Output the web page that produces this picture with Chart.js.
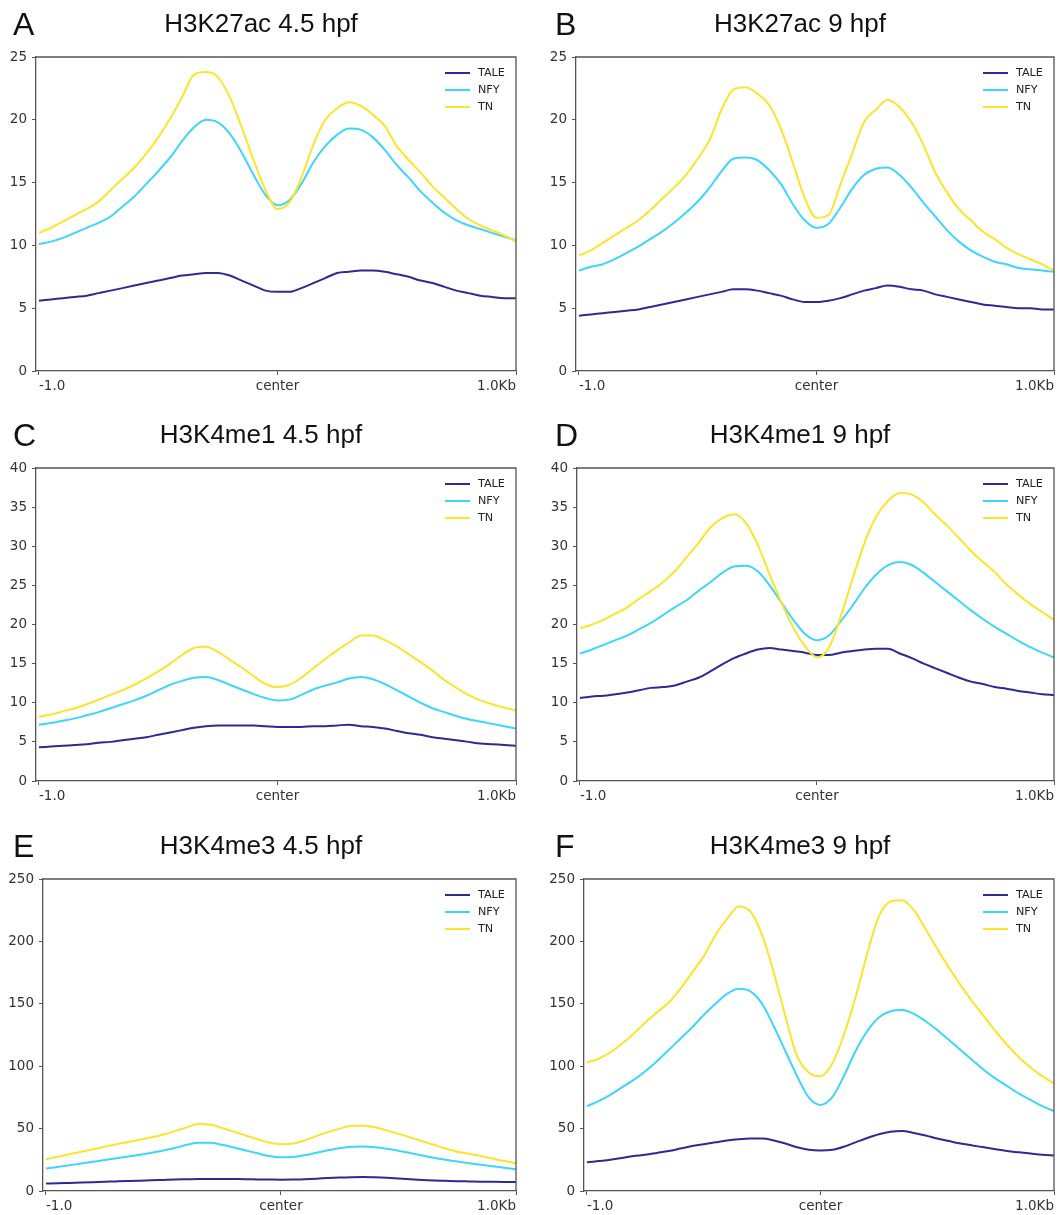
<!DOCTYPE html>
<html>
<head>
<meta charset="utf-8">
<script src="https://cdn.jsdelivr.net/npm/chart.js@4.4.1/dist/chart.umd.min.js"></script>
<style>
  html, body { margin: 0; padding: 0; background: #ffffff; }
  #wrap { position: relative; width: 1057px; height: 1215px; overflow: hidden; background: #fff; }
  canvas { position: absolute; }
  .ttl { position: absolute; font-family: "Liberation Sans", Arial, sans-serif; color: #111; white-space: nowrap; }
</style>
</head>
<body>
<div id="wrap"></div>
<script>
// ---------------- DATA ----------------
const seriesNames = ["TALE", "NFY", "TN"];
const seriesColors = ["#2c2a94", "#3dd6fa", "#fde42b"];
const xTickValues = [-1.0, 0.0, 1.0];
const xTickLabels = ["-1.0", "center", "1.0Kb"];
const xBins = [-1.0,-0.95,-0.9,-0.85,-0.8,-0.75,-0.7,-0.65,-0.6,-0.55,-0.5,-0.45,-0.4,-0.35,-0.3,-0.25,-0.2,-0.15,-0.1,-0.05,
  0.0,0.05,0.1,0.15,0.2,0.25,0.3,0.35,0.4,0.45,0.5,0.55,0.6,0.65,0.7,0.75,0.8,0.85,0.9,0.95,1.0];

// A: H3K27ac 4.5 hpf
const A_TALE = [5.6,5.7,5.8,5.9,6.0,6.2,6.4,6.6,6.8,7.0,7.2,7.4,7.6,7.7,7.8,7.8,7.6,7.2,6.8,6.4,
  6.3,6.3,6.6,7.0,7.4,7.8,7.9,8.0,8.0,7.9,7.7,7.5,7.2,7.0,6.7,6.4,6.2,6.0,5.9,5.8,5.8];
const A_NFY = [10.1,10.3,10.6,11.0,11.4,11.8,12.3,13.1,13.9,14.9,15.9,17.0,18.3,19.4,20.0,19.8,18.9,17.4,15.6,14.0,
  13.2,13.6,14.9,16.6,17.9,18.8,19.3,19.2,18.6,17.6,16.4,15.4,14.3,13.4,12.6,12.0,11.6,11.3,11.0,10.7,10.4];
const A_TN = [11.0,11.4,11.9,12.4,12.9,13.5,14.4,15.3,16.2,17.3,18.6,20.1,21.8,23.6,23.8,23.4,21.8,19.4,16.8,14.4,
  12.9,13.4,15.4,18.0,20.0,20.9,21.4,21.1,20.4,19.5,17.9,16.8,15.8,14.7,13.8,12.9,12.1,11.6,11.2,10.8,10.3];

// B: H3K27ac 9 hpf
const B_TALE = [4.4,4.5,4.6,4.7,4.8,4.9,5.1,5.3,5.5,5.7,5.9,6.1,6.3,6.5,6.5,6.4,6.2,6.0,5.7,5.5,
  5.5,5.6,5.8,6.1,6.4,6.6,6.8,6.7,6.5,6.4,6.1,5.9,5.7,5.5,5.3,5.2,5.1,5.0,5.0,4.9,4.9];
const B_NFY = [8.0,8.3,8.5,8.9,9.4,9.9,10.5,11.1,11.8,12.6,13.5,14.6,15.9,16.9,17.0,16.8,16.0,14.9,13.3,12.0,
  11.4,11.7,13.0,14.5,15.6,16.1,16.2,15.6,14.6,13.4,12.3,11.2,10.3,9.6,9.1,8.7,8.5,8.2,8.1,8.0,7.9];
const B_TN = [9.2,9.6,10.2,10.8,11.4,12.0,12.8,13.7,14.6,15.6,16.9,18.4,20.8,22.4,22.6,22.1,21.2,19.3,16.6,13.8,
  12.2,12.4,14.8,17.3,19.8,20.8,21.6,21.0,19.8,18.0,15.8,14.2,12.9,12.0,11.1,10.5,9.8,9.3,8.9,8.5,8.0];

// C: H3K4me1 4.5 hpf
const C_TALE = [4.3,4.4,4.5,4.6,4.7,4.9,5.0,5.2,5.4,5.6,5.9,6.2,6.5,6.8,7.0,7.1,7.1,7.1,7.1,7.0,
  6.9,6.9,6.9,7.0,7.0,7.1,7.2,7.0,6.9,6.7,6.4,6.1,5.9,5.6,5.4,5.2,5.0,4.8,4.7,4.6,4.5];
const C_NFY = [7.2,7.4,7.7,8.0,8.4,8.8,9.3,9.8,10.3,10.9,11.6,12.3,12.8,13.2,13.3,12.9,12.3,11.7,11.1,10.6,
  10.3,10.4,11.0,11.7,12.2,12.6,13.1,13.3,13.0,12.4,11.6,10.8,10.0,9.3,8.8,8.3,7.9,7.6,7.3,7.0,6.7];
const C_TN = [8.2,8.5,8.9,9.3,9.8,10.4,11.0,11.6,12.3,13.1,14.0,15.0,16.1,17.0,17.2,16.5,15.5,14.5,13.4,12.4,
  12.0,12.3,13.2,14.4,15.6,16.7,17.7,18.6,18.6,18.0,17.2,16.2,15.2,14.1,12.9,11.9,11.0,10.3,9.8,9.4,9.0];

// D: H3K4me1 9 hpf
const D_TALE = [10.6,10.8,10.9,11.1,11.3,11.6,11.9,12.0,12.2,12.7,13.2,14.0,14.9,15.7,16.3,16.8,17.0,16.8,16.6,16.4,
  16.1,16.1,16.4,16.6,16.8,16.9,16.9,16.3,15.7,15.0,14.4,13.8,13.2,12.7,12.4,12.0,11.8,11.5,11.3,11.1,11.0];
const D_NFY = [16.3,16.8,17.4,18.0,18.6,19.4,20.2,21.2,22.2,23.1,24.3,25.4,26.6,27.4,27.5,26.8,25.0,22.8,20.6,18.8,
  18.0,18.6,20.4,22.4,24.6,26.4,27.6,28.0,27.6,26.6,25.4,24.2,23.0,21.8,20.7,19.7,18.8,17.9,17.1,16.4,15.8];
const D_TN = [19.5,20.0,20.6,21.4,22.2,23.3,24.3,25.4,26.8,28.6,30.4,32.4,33.6,34.1,33.0,30.2,26.4,22.8,19.6,17.2,
  15.8,17.0,21.0,25.8,30.4,33.8,35.8,36.8,36.6,35.6,34.0,32.6,31.0,29.4,28.0,26.7,25.1,23.8,22.6,21.6,20.6];

// E: H3K4me3 4.5 hpf
const E_TALE = [6.0,6.2,6.5,6.8,7.1,7.4,7.7,8.0,8.3,8.6,8.9,9.2,9.4,9.6,9.7,9.7,9.6,9.5,9.3,9.2,
  9.1,9.2,9.5,9.9,10.4,10.8,11.1,11.2,11.0,10.6,10.0,9.4,8.9,8.5,8.2,7.9,7.7,7.5,7.4,7.3,7.2];
const E_NFY = [18.0,19.3,20.6,22.0,23.4,24.8,26.2,27.6,29.0,30.6,32.4,34.6,37.0,38.6,38.6,37.0,34.8,32.5,30.2,28.0,
  27.0,27.2,28.6,30.6,32.6,34.3,35.4,35.6,35.0,33.8,32.2,30.4,28.5,26.6,25.0,23.6,22.3,21.0,19.8,18.6,17.4];
const E_TN = [25.5,27.5,29.5,31.5,33.5,35.5,37.5,39.3,41.0,43.0,45.3,48.0,51.0,53.6,53.0,50.5,47.5,44.5,41.5,38.8,
  37.5,38.0,40.5,44.0,47.3,50.0,52.2,52.3,51.0,48.5,45.8,43.0,40.0,37.0,34.0,31.5,29.8,28.0,26.0,24.0,22.3];

// F: H3K4me3 9 hpf
const F_TALE = [23,24,25,26.5,28,29,30.5,32,34,36,37.5,39,40.5,41.5,42,42,40.5,38,35,33,
  32.5,33,35.5,39,42.5,45.5,47.5,48,46.5,44.5,42,40,38,36.5,35,33.5,32,31,30,29,28.5];
const F_NFY = [68,72,77,83,89,96,104,113,122,131,141,150,158,162,160,150,132,112,92,75,
  69,75,92,112,128,139,144,145,142,136,129,121,113,105,97,90,84,78,73,68,64];
const F_TN = [103,106,111,118,126,135,143,151,162,175,188,205,218,228,224,205,175,140,108,95,
  92,102,125,155,190,220,232,233,225,210,194,179,165,152,140,128,117,107,99,92,86];

const yTicksSmall = [0, 5, 10, 15, 20, 25];
const yTicksMid = [0, 5, 10, 15, 20, 25, 30, 35, 40];
const yTicksLarge = [0, 50, 100, 150, 200, 250];

// ---------------- LAYOUT ----------------
const panels = [
  { letter: "A", title: "H3K27ac 4.5 hpf", series: [A_TALE, A_NFY, A_TN], yTicks: yTicksSmall,
    area: { l: 36, t: 57, r: 516, b: 371 }, col: 0, row: 0 },
  { letter: "B", title: "H3K27ac 9 hpf", series: [B_TALE, B_NFY, B_TN], yTicks: yTicksSmall,
    area: { l: 576, t: 57, r: 1054, b: 371 }, col: 1, row: 0 },
  { letter: "C", title: "H3K4me1 4.5 hpf", series: [C_TALE, C_NFY, C_TN], yTicks: yTicksMid,
    area: { l: 36, t: 468, r: 516, b: 781 }, col: 0, row: 1 },
  { letter: "D", title: "H3K4me1 9 hpf", series: [D_TALE, D_NFY, D_TN], yTicks: yTicksMid,
    area: { l: 577, t: 468, r: 1054, b: 781 }, col: 1, row: 1 },
  { letter: "E", title: "H3K4me3 4.5 hpf", series: [E_TALE, E_NFY, E_TN], yTicks: yTicksLarge,
    area: { l: 43, t: 879, r: 516, b: 1191 }, col: 0, row: 2 },
  { letter: "F", title: "H3K4me3 9 hpf", series: [F_TALE, F_NFY, F_TN], yTicks: yTicksLarge,
    area: { l: 584, t: 879, r: 1054, b: 1191 }, col: 1, row: 2 }
];

const colLeft = [0, 530];
const colWidth = [528, 527];
const titleCenter = [261, 800];
const letterLeft = [13, 555];
const rowBaseline = [32, 443, 854];

const wrap = document.getElementById("wrap");

const framePlugin = {
  id: "frameAndLegend",
  afterDraw(chart) {
    const ctx = chart.ctx;
    const a = chart.chartArea;
    ctx.save();
    ctx.strokeStyle = "#555";
    ctx.lineWidth = 1.3;
    ctx.beginPath();
    ctx.moveTo(a.left, a.top);
    ctx.lineTo(a.right, a.top);
    ctx.lineTo(a.right, a.bottom);
    ctx.stroke();
    // legend
    ctx.font = "11.2px 'DejaVu Sans', sans-serif";
    ctx.textBaseline = "middle";
    ctx.textAlign = "left";
    chart.data.datasets.forEach((ds, i) => {
      const y = a.top + 16 + i * 17;
      ctx.strokeStyle = ds.borderColor;
      ctx.lineWidth = 2;
      ctx.beginPath();
      ctx.moveTo(a.right - 71, y);
      ctx.lineTo(a.right - 46, y);
      ctx.stroke();
      ctx.fillStyle = "#222";
      ctx.fillText(ds.label, a.right - 38, y + 0.5);
    });
    ctx.restore();
  }
};

panels.forEach((p) => {
  const cl = colLeft[p.col];
  const cw = colWidth[p.col];
  const ct = p.area.t - 25;
  const cb = p.area.b + 32;
  const ch = cb - ct;

  const canvas = document.createElement("canvas");
  canvas.width = cw;
  canvas.height = ch;
  canvas.style.left = cl + "px";
  canvas.style.top = ct + "px";
  canvas.style.width = cw + "px";
  canvas.style.height = ch + "px";
  wrap.appendChild(canvas);

  // titles
  const letter = document.createElement("div");
  letter.className = "ttl";
  letter.textContent = p.letter;
  letter.style.fontSize = "32px";
  letter.style.lineHeight = "32px";
  letter.style.left = letterLeft[p.col] + "px";
  letter.style.top = (rowBaseline[p.row] + 3 - 27.1) + "px";
  wrap.appendChild(letter);

  const ttl = document.createElement("div");
  ttl.className = "ttl";
  ttl.textContent = p.title;
  ttl.style.fontSize = "26px";
  ttl.style.lineHeight = "26px";
  ttl.style.top = (rowBaseline[p.row] - 22.0) + "px";
  ttl.style.left = titleCenter[p.col] + "px";
  ttl.style.transform = "translateX(-50%)";
  wrap.appendChild(ttl);

  const datasets = p.series.map((vals, i) => ({
    label: seriesNames[i],
    data: xBins.map((x, k) => ({ x: x, y: vals[k] })),
    borderColor: seriesColors[i],
    backgroundColor: seriesColors[i],
    borderWidth: 2,
    pointRadius: 0,
    fill: false,
    cubicInterpolationMode: "monotone",
    order: 3 - i
  }));

  const yAxisWidth = p.area.l - cl;
  const xAxisHeight = cb - p.area.b;
  const yMax = p.yTicks[p.yTicks.length - 1];

  new Chart(canvas, {
    type: "line",
    data: { datasets: datasets },
    options: {
      responsive: false,
      animation: false,
      devicePixelRatio: 1,
      layout: { padding: { left: 0, top: p.area.t - ct, right: cl + cw - p.area.r, bottom: 0 } },
      plugins: { legend: { display: false }, tooltip: { enabled: false } },
      scales: {
        x: {
          type: "linear",
          min: -1.0125,
          max: 1.0,
          afterBuildTicks: (scale) => { scale.ticks = xTickValues.map(v => ({ value: v })); },
          afterFit: (scale) => { scale.height = xAxisHeight; },
          ticks: {
            callback: (v, idx) => xTickLabels[idx],
            align: "inner",
            maxRotation: 0,
            autoSkip: false,
            padding: 3,
            color: "#333",
            font: { family: "'DejaVu Sans', sans-serif", size: 13.5 }
          },
          grid: { drawOnChartArea: false, drawTicks: true, tickLength: 4, color: "#555", lineWidth: 1 },
          border: { display: true, color: "#555", width: 1.3 }
        },
        y: {
          type: "linear",
          min: 0,
          max: yMax,
          afterBuildTicks: (scale) => { scale.ticks = p.yTicks.map(v => ({ value: v })); },
          afterFit: (scale) => { scale.width = yAxisWidth; },
          ticks: {
            padding: 5,
            color: "#333",
            font: { family: "'DejaVu Sans', sans-serif", size: 13.5 }
          },
          grid: { drawOnChartArea: false, drawTicks: true, tickLength: 4, color: "#555", lineWidth: 1 },
          border: { display: true, color: "#555", width: 1.3 }
        }
      }
    },
    plugins: [framePlugin]
  });
});
</script>
</body>
</html>
